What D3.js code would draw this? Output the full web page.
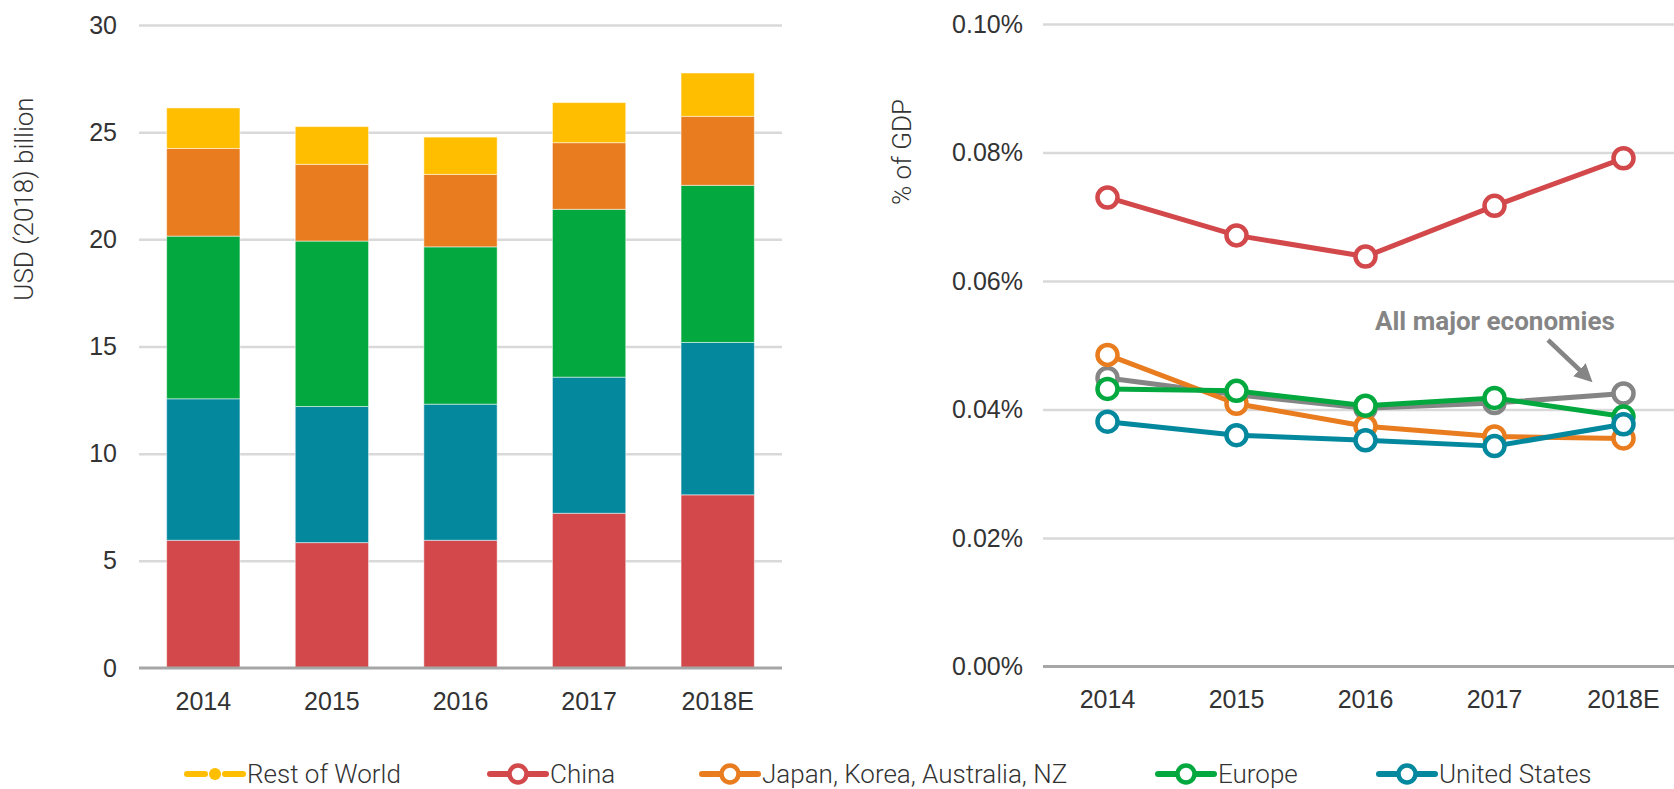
<!DOCTYPE html>
<html>
<head>
<meta charset="utf-8">
<script src="https://cdn.jsdelivr.net/npm/d3@7"></script>
<style>
  body { margin: 0; background: #fff; }
  svg { display: block; font-family: Roboto, sans-serif; font-weight: 300; }
  .tick text { fill: #333; font-size: 25px; }
  .grid line { stroke: #d9d9d9; stroke-width: 2.5; }
  .grid .domain { display: none; }
  .xaxis .domain { display: none; }
  .xaxis line { display: none; }
</style>
</head>
<body>
<script>
// Jahre / Kategorien
var years = ["2014", "2015", "2016", "2017", "2018E"];

// linkes Diagramm: USD (2018) Mrd.
var china = [5.96, 5.85, 5.96, 7.22, 8.08];
var unitedStates = [6.60, 6.35, 6.35, 6.35, 7.11];
var europe = [7.59, 7.72, 7.34, 7.83, 7.33];
var japanKoreaAusNz = [4.09, 3.58, 3.38, 3.11, 3.22];
var restOfWorld = [1.89, 1.76, 1.74, 1.87, 2.02];

// rechtes Diagramm: % des BIP
var chinaGdp = [0.0730, 0.0671, 0.0638, 0.0717, 0.0791];
var allMajorGdp = [0.0449, 0.0423, 0.0402, 0.0410, 0.0425];
var japanGdp = [0.0485, 0.0409, 0.0374, 0.0358, 0.0355];
var europeGdp = [0.0432, 0.0429, 0.0406, 0.0418, 0.0389];
var usGdp = [0.0381, 0.0360, 0.0352, 0.0343, 0.0377];

// Achsenticks
var leftTicks = [0, 5, 10, 15, 20, 25, 30];
var rightTicks = [0, 0.02, 0.04, 0.06, 0.08, 0.10];

var colors = {
  china: "#d2484b", us: "#03889e", europe: "#03a83f",
  japan: "#e87c1e", row: "#ffbe00", all: "#858585"
};

var W = 1674, H = 789;
var svg = d3.select("body").append("svg").attr("width", W).attr("height", H);

///// Linkes Diagramm (gestapelte Balken)
var xL = d3.scaleBand().domain(years).range([139, 782]).paddingInner(0.43).paddingOuter(0.215);
var yL = d3.scaleLinear().domain([0, 30]).range([668, 25]);

svg.append("g")
  .attr("class", "grid")
  .attr("transform", "translate(139,0)")
  .call(d3.axisLeft(yL).tickValues(leftTicks).tickSize(-643).tickPadding(22))
  .call(g => g.selectAll(".tick").filter(d => d === 0).select("line").remove());

var rows = years.map((y, i) => ({
  year: y, china: china[i], us: unitedStates[i], europe: europe[i],
  japan: japanKoreaAusNz[i], row: restOfWorld[i]
}));
var keys = ["china", "us", "europe", "japan", "row"];
var stacked = d3.stack().keys(keys)(rows);

svg.append("g").selectAll("g")
  .data(stacked)
  .join("g")
  .attr("fill", d => colors[d.key])
  .selectAll("rect")
  .data(d => d)
  .join("rect")
  .attr("x", d => xL(d.data.year))
  .attr("width", xL.bandwidth())
  .attr("y", d => yL(d[1]))
  .attr("height", d => yL(d[0]) - yL(d[1]))
  .attr("stroke", "#fff")
  .attr("stroke-opacity", 0.5)
  .attr("stroke-width", 1);

// Grundlinie
svg.append("line")
  .attr("x1", 139).attr("x2", 782)
  .attr("y1", yL(0)).attr("y2", yL(0))
  .attr("stroke", "#a6a6a6").attr("stroke-width", 3);

svg.append("g")
  .attr("class", "xaxis")
  .attr("transform", "translate(0," + yL(0) + ")")
  .call(d3.axisBottom(xL).tickSize(0).tickPadding(24));

svg.append("text")
  .attr("transform", "translate(33,199) rotate(-90)")
  .attr("text-anchor", "middle")
  .attr("font-size", 26)
  .attr("fill", "#333")
  .text("USD (2018) billion");

///// Rechtes Diagramm (Linien)
var xR = d3.scaleBand().domain(years).range([1043, 1688]);
var yR = d3.scaleLinear().domain([0, 0.10]).range([666.5, 24]);
var px = d => xR(d) + xR.bandwidth() / 2;

svg.append("g")
  .attr("class", "grid")
  .attr("transform", "translate(1043,0)")
  .call(d3.axisLeft(yR).tickValues(rightTicks).tickSize(-640).tickPadding(20)
    .tickFormat(d => d3.format(".2f")(d) + "%"))
  .call(g => g.selectAll(".tick").filter(d => d === 0).select("line").remove());

svg.append("line")
  .attr("x1", 1043).attr("x2", W)
  .attr("y1", yR(0)).attr("y2", yR(0))
  .attr("stroke", "#a6a6a6").attr("stroke-width", 3);

svg.append("g")
  .attr("class", "xaxis")
  .attr("transform", "translate(0," + yR(0) + ")")
  .call(d3.axisBottom(xR).tickSize(0).tickPadding(24));

svg.append("text")
  .attr("transform", "translate(911,152) rotate(-90)")
  .attr("text-anchor", "middle")
  .attr("font-size", 26)
  .attr("fill", "#333")
  .text("% of GDP");

var lineSeries = [
  {key: "all", values: allMajorGdp},
  {key: "china", values: chinaGdp},
  {key: "japan", values: japanGdp},
  {key: "europe", values: europeGdp},
  {key: "us", values: usGdp}
];

var line = d3.line()
  .x((d, i) => px(years[i]))
  .y(d => yR(d));

lineSeries.forEach(s => {
  var g = svg.append("g");
  g.append("path")
    .datum(s.values)
    .attr("d", line)
    .attr("fill", "none")
    .attr("stroke", colors[s.key])
    .attr("stroke-width", 5)
    .attr("stroke-linejoin", "round");
  g.selectAll("circle")
    .data(s.values)
    .join("circle")
    .attr("cx", (d, i) => px(years[i]))
    .attr("cy", d => yR(d))
    .attr("r", 10)
    .attr("fill", "#fff")
    .attr("stroke", colors[s.key])
    .attr("stroke-width", 4.5);
});

// Annotation
svg.append("text")
  .attr("x", 1375).attr("y", 330)
  .attr("font-size", 26)
  .attr("font-weight", 700)
  .attr("fill", colors.all)
  .text("All major economies");

svg.append("defs").append("marker")
  .attr("id", "arrow")
  .attr("viewBox", "0 0 10 10")
  .attr("refX", 5).attr("refY", 5)
  .attr("markerWidth", 4).attr("markerHeight", 4)
  .attr("orient", "auto")
  .append("path")
  .attr("d", "M0,0 L10,5 L0,10 z")
  .attr("fill", colors.all);

svg.append("line")
  .attr("x1", 1548).attr("y1", 340)
  .attr("x2", 1586).attr("y2", 376)
  .attr("stroke", colors.all)
  .attr("stroke-width", 4.5)
  .attr("marker-end", "url(#arrow)");

///// Legende
var legendItems = [
  {key: "row", label: "Rest of World", x: 187, dot: true},
  {key: "china", label: "China", x: 490},
  {key: "japan", label: "Japan, Korea, Australia, NZ", x: 702},
  {key: "europe", label: "Europe", x: 1158},
  {key: "us", label: "United States", x: 1379}
];
var ly = 774;

var leg = svg.append("g").selectAll("g")
  .data(legendItems)
  .join("g")
  .attr("transform", d => "translate(" + d.x + "," + ly + ")");

leg.each(function (d) {
  var g = d3.select(this);
  if (d.dot) {
    g.append("line").attr("x1", 0).attr("x2", 18).attr("y1", 0).attr("y2", 0)
      .attr("stroke", colors[d.key]).attr("stroke-width", 6).attr("stroke-linecap", "round");
    g.append("line").attr("x1", 38).attr("x2", 56).attr("y1", 0).attr("y2", 0)
      .attr("stroke", colors[d.key]).attr("stroke-width", 6).attr("stroke-linecap", "round");
    g.append("circle").attr("cx", 28).attr("cy", 0).attr("r", 6).attr("fill", colors[d.key]);
  } else {
    g.append("line").attr("x1", 0).attr("x2", 56).attr("y1", 0).attr("y2", 0)
      .attr("stroke", colors[d.key]).attr("stroke-width", 6).attr("stroke-linecap", "round");
    g.append("circle").attr("cx", 28).attr("cy", 0).attr("r", 8.5)
      .attr("fill", "#fff").attr("stroke", colors[d.key]).attr("stroke-width", 4.5);
  }
  g.append("text")
    .attr("x", 60).attr("y", 0)
    .attr("dy", "0.36em")
    .attr("font-size", 26)
    .attr("fill", "#333")
    .text(d.label);
});
</script>
</body>
</html>
